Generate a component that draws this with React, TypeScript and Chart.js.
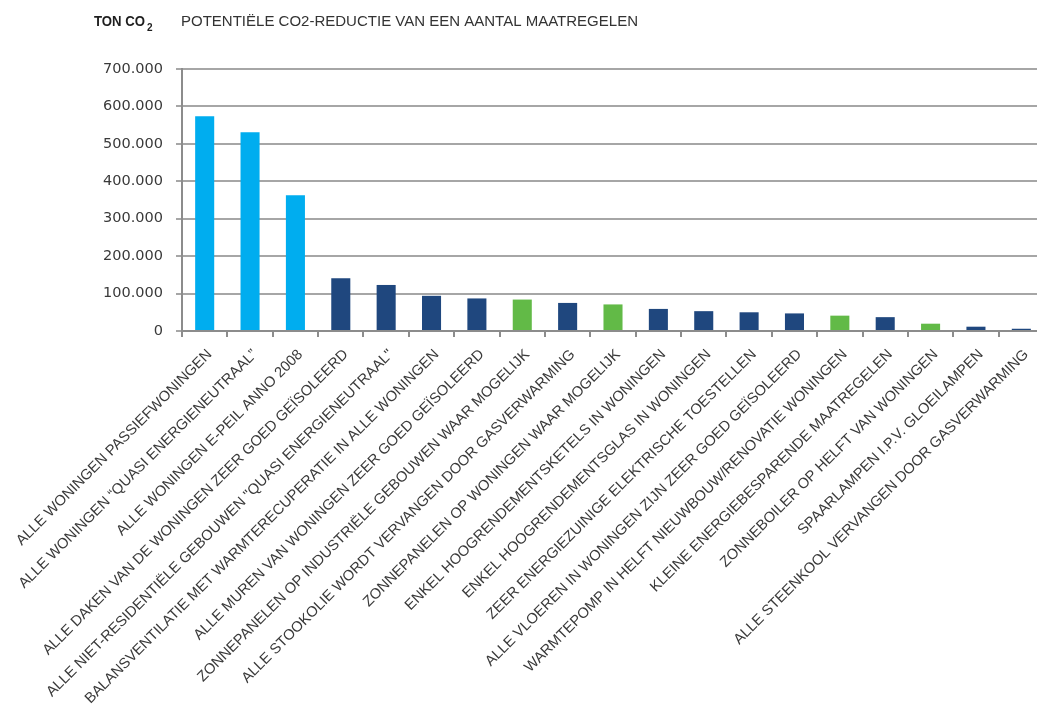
import React, { useEffect, useRef } from "react";
import { Chart, registerables } from "chart.js";

Chart.register(...registerables);

const categories: string[] = [
  "ALLE WONINGEN PASSIEFWONINGEN",
  "ALLE WONINGEN “QUASI ENERGIENEUTRAAL”",
  "ALLE WONINGEN E-PEIL ANNO 2008",
  "ALLE DAKEN VAN DE WONINGEN ZEER GOED GEÏSOLEERD",
  "ALLE NIET-RESIDENTIËLE GEBOUWEN \"QUASI ENERGIENEUTRAAL\"",
  "BALANSVENTILATIE MET WARMTERECUPERATIE IN ALLE WONINGEN",
  "ALLE MUREN VAN WONINGEN ZEER GOED GEÏSOLEERD",
  "ZONNEPANELEN OP INDUSTRIËLE GEBOUWEN WAAR MOGELIJK",
  "ALLE STOOKOLIE WORDT VERVANGEN DOOR GASVERWARMING",
  "ZONNEPANELEN OP WONINGEN WAAR MOGELIJK",
  "ENKEL HOOGRENDEMENTSKETELS IN WONINGEN",
  "ENKEL HOOGRENDEMENTSGLAS IN WONINGEN",
  "ZEER ENERGIEZUINIGE ELEKTRISCHE TOESTELLEN",
  "ALLE VLOEREN IN WONINGEN ZIJN ZEER GOED GEÏSOLEERD",
  "WARMTEPOMP IN HELFT NIEUWBOUW/RENOVATIE WONINGEN",
  "KLEINE ENERGIEBESPARENDE MAATREGELEN",
  "ZONNEBOILER OP HELFT VAN WONINGEN",
  "SPAARLAMPEN I.P.V. GLOEILAMPEN",
  "ALLE STEENKOOL VERVANGEN DOOR GASVERWARMING",
];

const reductionTon: number[] = [
  574000, 531000, 363000, 141000, 123000, 94000, 87000, 84000, 75000, 71000,
  59000, 53000, 50000, 47000, 41000, 37000, 19500, 11500, 6000,
];

// kind of measure: "nieuw" = new-build standard, "maatregel" = measure, "hernieuwbaar" = renewable
const measureKind: string[] = [
  "nieuw", "nieuw", "nieuw", "maatregel", "maatregel", "maatregel", "maatregel",
  "hernieuwbaar", "maatregel", "hernieuwbaar", "maatregel", "maatregel", "maatregel",
  "maatregel", "hernieuwbaar", "maatregel", "hernieuwbaar", "maatregel", "maatregel",
];

const yTicks: number[] = [0, 100000, 200000, 300000, 400000, 500000, 600000, 700000];

const unitLabel = "TON CO";
const unitSub = "2";
const titleText = "POTENTIËLE CO2-REDUCTIE VAN EEN AANTAL MAATREGELEN";

const kindColor: Record<string, string> = {
  nieuw: "#00ADEF",
  maatregel: "#1F477E",
  hernieuwbaar: "#62BA47",
};

const fmt = (v: number) => String(v).replace(/\B(?=(\d{3})+(?!\d))/g, ".");

const titlePlugin = {
  id: "titlePlugin",
  afterDraw(chart: any) {
    const ctx = chart.ctx as CanvasRenderingContext2D;
    ctx.save();
    ctx.textBaseline = "alphabetic";
    ctx.textAlign = "left";
    const base = 26;
    ctx.fillStyle = "#1e1e1e";
    ctx.font = 'bold 14px "Liberation Sans"';
    const wUnit = ctx.measureText(unitLabel).width;
    const unitTarget = 51;
    ctx.save();
    ctx.translate(94, base);
    ctx.scale(unitTarget / wUnit, 1);
    ctx.fillText(unitLabel, 0, 0);
    ctx.restore();
    ctx.font = 'bold 10px "Liberation Sans"';
    ctx.fillText(unitSub, 94 + unitTarget + 2, base + 5);
    ctx.font = '14.5px "Liberation Sans"';
    ctx.fillStyle = "#333333";
    const wTitle = ctx.measureText(titleText).width;
    const titleTarget = 457;
    ctx.save();
    ctx.translate(181, base);
    ctx.scale(titleTarget / wTitle, 1);
    ctx.fillText(titleText, 0, 0);
    ctx.restore();
    ctx.restore();
  },
};

const CANVAS_W = 1044;
const CANVAS_H = 724;

export default function App() {
  const ref = useRef<HTMLCanvasElement | null>(null);
  useEffect(() => {
    if (!ref.current) return;
    const chart = new Chart(ref.current, {
      type: "bar",
      data: {
        labels: categories,
        datasets: [
          {
            data: reductionTon,
            backgroundColor: measureKind.map((k) => kindColor[k]),
            borderWidth: 0,
            barPercentage: 0.42,
            categoryPercentage: 1,
          },
        ],
      },
      options: {
        animation: false,
        responsive: false,
        maintainAspectRatio: false,
        layout: { padding: { top: 69, right: 0, left: 0, bottom: 0 } },
        plugins: {
          legend: { display: false },
          tooltip: { enabled: false },
          title: { display: false },
        },
        scales: {
          x: {
            afterFit: (s: any) => {
              s.height = 393;
              s.paddingLeft = 0;
              s.paddingRight = 0;
            },
            grid: {
              display: true,
              drawOnChartArea: false,
              drawTicks: true,
              tickLength: 6,
              color: "#8c8c8c",
              lineWidth: 2,
              offset: true,
            },
            border: { display: true, color: "#8c8c8c", width: 2 },
            ticks: {
              autoSkip: false,
              maxRotation: 45,
              minRotation: 45,
              padding: 9,
              labelOffset: 5,
              color: "#3a3a3a",
              font: { family: '"Liberation Sans"', size: 14.7 },
            },
          },
          y: {
            min: 0,
            max: 700000,
            afterFit: (s: any) => {
              s.width = 182;
            },
            afterBuildTicks: (s: any) => {
              s.ticks = yTicks.map((v) => ({ value: v }));
            },
            grid: {
              color: "#a6a6a6",
              lineWidth: 2,
              drawTicks: true,
              tickLength: 6,
            },
            border: { display: true, color: "#8c8c8c", width: 2 },
            ticks: {
              padding: 13,
              color: "#3a3a3a",
              font: { family: '"DejaVu Sans"', size: 14.5 },
              callback: (v: any) => fmt(Number(v)),
            },
          },
        },
      },
      plugins: [titlePlugin],
    });
    return () => chart.destroy();
  }, []);
  return (
    <div style={{ position: "fixed", left: 0, top: 0, width: 1037, height: 724, overflow: "hidden", background: "#fff" }}>
      <canvas ref={ref} width={CANVAS_W} height={CANVAS_H} style={{ width: CANVAS_W, height: CANVAS_H, display: "block" }} />
    </div>
  );
}
